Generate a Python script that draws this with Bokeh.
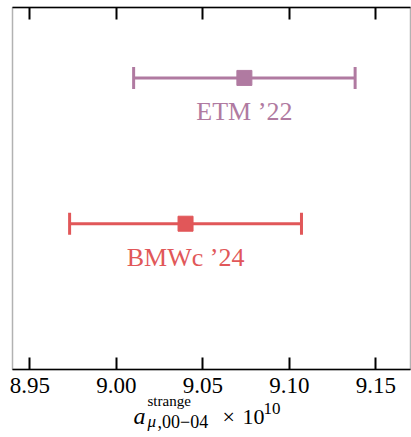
from bokeh.plotting import figure
from bokeh.models import (ColumnDataSource, Whisker, TeeHead, FixedTicker, LinearAxis, Range1d,
                          BoxAnnotation)
from bokeh.core.properties import value
from bokeh.embed import file_html
from bokeh.resources import INLINE

# ---- data ----
labels = ["ETM \u201922", "BMWc \u201924"]
values = [9.074, 9.040]
errors = [0.064, 0.067]
rows = [2, 1]
colors = ["#b07aa1", "#e15759"]
tick_values = [8.95, 9.00, 9.05, 9.10, 9.15]
tick_labels = ["8.95", "9.00", "9.05", "9.10", "9.15"]

FONT = "Liberation Serif"
# axes box (data) and its placement on the canvas (px)
X0, X1 = 8.94, 9.17
Y0, Y1 = 0, 2.483
W, H = 411, 437
BL, BW = 12, 398      # box left, box width
BT, BH = 7, 362       # box top, box height
sx = (X1 - X0) / BW
sy = (Y1 - Y0) / BH

p = figure(width=W, height=H, output_backend="svg", toolbar_location=None,
           x_range=Range1d(X0 - BL * sx, X1 + (W - BL - BW) * sx),
           y_range=Range1d(Y0 - (H - BT - BH) * sy, Y1 + BT * sy),
           x_axis_location=None, y_axis_location=None,
           min_border=0, min_border_left=0, min_border_right=0,
           min_border_top=0, min_border_bottom=0,
           outline_line_color=None,
           background_fill_color="white", border_fill_color="white")
p.grid.visible = False
p.extra_x_ranges = {"px": Range1d(0, W)}
p.extra_y_ranges = {"py": Range1d(H, 0)}

# axes box
p.add_layout(BoxAnnotation(left=X0, right=X1, bottom=Y0, top=Y1, fill_alpha=0,
                           line_color="black", line_width=1.5, level="overlay"))

# top ticks (no labels) + top edge line
top = LinearAxis(ticker=FixedTicker(ticks=tick_values), fixed_location=Y1, bounds=(X0, X1),
                 major_tick_in=12, major_tick_out=0, minor_tick_in=0, minor_tick_out=0,
                 major_tick_line_width=2, minor_tick_line_color=None,
                 axis_line_color="black", axis_line_width=1.5,
                 major_label_text_font_size="0px", major_label_standoff=0,
                 major_label_text_alpha=0)
p.add_layout(top, "above")

# bottom ticks with labels
bottom = LinearAxis(ticker=FixedTicker(ticks=tick_values), fixed_location=Y0, bounds=(X0, X1),
                    major_tick_in=12, major_tick_out=0, minor_tick_in=0, minor_tick_out=0,
                    major_tick_line_width=2, minor_tick_line_color=None,
                    axis_line_color="black", axis_line_width=1.5,
                    major_label_text_font=FONT, major_label_text_font_size="23px",
                    major_label_text_color="black", major_label_standoff=8,
                    major_label_overrides={v: s for v, s in zip(tick_values, tick_labels)})
p.add_layout(bottom, "below")

src_all = ColumnDataSource(dict(x=values, y=rows, label=labels, color=colors))

for i in range(len(labels)):
    s = ColumnDataSource(dict(y=[rows[i]], lo=[values[i] - errors[i]], hi=[values[i] + errors[i]]))
    w = Whisker(source=s, base="y", lower="lo", upper="hi", dimension="width",
                line_color=colors[i], line_width=3,
                lower_head=TeeHead(size=22, line_color=colors[i], line_width=3),
                upper_head=TeeHead(size=22, line_color=colors[i], line_width=3))
    p.add_layout(w)

p.scatter(x="x", y="y", source=src_all, marker="square", size=15,
          fill_color="color", line_color="color")
p.text(x="x", y="y", text="label", source=src_all, text_align="center",
       text_baseline="alphabetic", y_offset=34, text_color="color",
       text_font=value(FONT), text_font_size="26px")

# ---- axis title (pieces placed in page pixels, y from top) ----
def piece(x, y, t, size, style="normal"):
    p.text(x=[x], y=[y], text=[t], x_range_name="px", y_range_name="py",
           text_font=value(FONT), text_font_size=size, text_font_style=style,
           text_baseline="alphabetic", text_align="left", text_color="black")

piece(133, 415, "a", "24px", "italic")
piece(147, 400, "strange", "15px")
piece(147, 421, "\u03bc", "17px", "italic")
piece(157, 421, ",00\u221204", "18px")
piece(222, 416, "\u00d7", "22px")
piece(242, 416, "10", "22px")
piece(263, 408, "10", "17px")

open("out.html", "w").write(file_html(p, INLINE))
